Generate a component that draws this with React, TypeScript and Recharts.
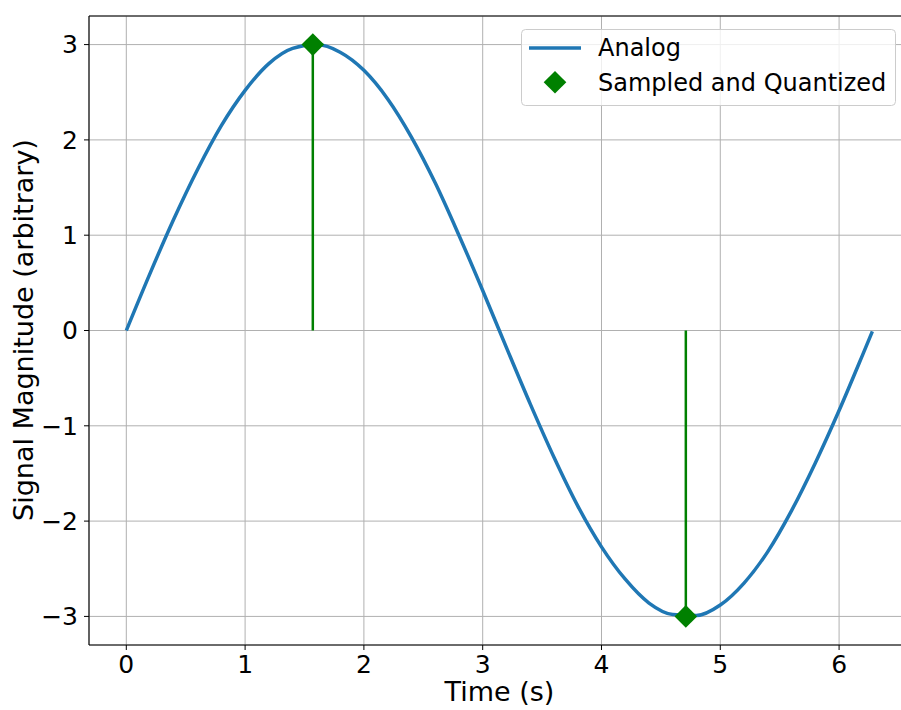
import {
  ComposedChart,
  Line,
  Scatter,
  XAxis,
  YAxis,
  CartesianGrid,
  Legend,
  ReferenceLine
} from "recharts";

// Analog signal
const analogTime = [
  0, 0.2, 0.4, 0.6, 0.8, 1.0, 1.2, 1.4, 1.6, 1.8, 2.0, 2.2, 2.4, 2.6, 2.8, 3.0,
  3.2, 3.4, 3.6, 3.8, 4.0, 4.2, 4.4, 4.6, 4.8, 5.0, 5.2, 5.4, 5.6, 5.8, 6.0, 6.2, 6.28
];
const analogValue = [
  0, 0.6, 1.17, 1.69, 2.15, 2.52, 2.8, 2.96, 3.0, 2.92, 2.73, 2.43, 2.03, 1.55, 1.0, 0.42,
  -0.18, -0.77, -1.33, -1.84, -2.27, -2.61, -2.86, -2.98, -2.99, -2.88, -2.65, -2.32, -1.89, -1.39, -0.84, -0.25, -0.01
];

// Sampled and quantized points
const sampleTime = [1.57, 4.71];
const sampleValue = [3, -3];

const xTicks = [0, 1, 2, 3, 4, 5, 6];
const yTicks = [-3, -2, -1, 0, 1, 2, 3];
const legendLabels = ["Analog", "Sampled and Quantized"];

const FONT = "'DejaVu Sans', sans-serif";
const BLUE = "#1f77b4";
const GREEN = "#008000";

const analogData = analogTime.map((t, i) => ({ t, v: analogValue[i] }));
const sampleData = sampleTime.map((t, i) => ({ t, v: sampleValue[i] }));
const stems = sampleTime.map((t, i) => [
  { t, v: 0 },
  { t, v: sampleValue[i] }
]);

const fmt = (v: number) => (v < 0 ? `\u2212${Math.abs(v)}` : `${v}`);

function Diamond({ cx, cy }: any) {
  const r = 11.3;
  return (
    <polygon
      points={`${cx},${cy - r} ${cx + r},${cy} ${cx},${cy + r} ${cx - r},${cy}`}
      fill={GREEN}
    />
  );
}

function LegendBox() {
  return (
    <svg width={375} height={77} style={{ display: "block" }}>
      <rect x={0.5} y={0.5} width={374} height={76} rx={4} ry={4}
        fill="rgba(255,255,255,0.8)" stroke="#cccccc" strokeWidth={1} />
      <line x1={8} x2={60} y1={19} y2={19} stroke={BLUE} strokeWidth={3.5} />
      <polygon points="34,42 45.3,53.3 34,64.6 22.7,53.3" fill={GREEN} />
      <text x={77} y={19} dominantBaseline="central" fontSize={24} fontFamily={FONT} fill="#000">
        {legendLabels[0]}
      </text>
      <text x={77} y={54} dominantBaseline="central" fontSize={24} fontFamily={FONT} fill="#000">
        {legendLabels[1]}
      </text>
    </svg>
  );
}

export default function App() {
  const tickStyle = { fontSize: 25, fontFamily: FONT, fill: "#000" };
  return (
    <div style={{ position: "absolute", left: 0, top: 0, width: 901, height: 710, overflow: "hidden", background: "#fff" }}>
      <ComposedChart width={920} height={710} margin={{ top: 16, right: 10, left: 0, bottom: 0 }}>
        <CartesianGrid stroke="#b0b0b0" strokeWidth={1} />
        <XAxis
          type="number"
          dataKey="t"
          domain={[-0.314, 6.597]}
          ticks={xTicks}
          allowDataOverflow
          height={65}
          tick={tickStyle}
          tickSize={5}
          tickMargin={5}
          tickLine={{ stroke: "#000" }}
          axisLine={{ stroke: "#000", strokeWidth: 1.1 }}
          label={({ viewBox }: any) => (
            <text
              x={viewBox.x + viewBox.width / 2}
              y={701}
              textAnchor="middle"
              fontSize={27}
              fontFamily={FONT}
              fill="#000"
            >
              Time (s)
            </text>
          )}
        />
        <YAxis
          type="number"
          dataKey="v"
          domain={[-3.3, 3.3]}
          ticks={yTicks}
          allowDataOverflow
          width={89}
          tick={tickStyle}
          tickFormatter={fmt}
          tickSize={5}
          tickMargin={6}
          tickLine={{ stroke: "#000" }}
          axisLine={{ stroke: "#000", strokeWidth: 1.1 }}
          label={() => (
            <text
              x={33}
              y={330}
              transform="rotate(-90, 33, 330)"
              textAnchor="middle"
              fontSize={27}
              fontFamily={FONT}
              fill="#000"
            >
              Signal Magnitude (arbitrary)
            </text>
          )}
        />
        <ReferenceLine y={3.3} stroke="#000" strokeWidth={1.1} />
        <Line
          data={analogData}
          dataKey="v"
          type="monotone"
          stroke={BLUE}
          strokeWidth={3.5}
          dot={false}
          activeDot={false}
          isAnimationActive={false}
        />
        {stems.map((s, i) => (
          <Line
            key={`stem-${i}`}
            data={s}
            dataKey="v"
            type="linear"
            stroke={GREEN}
            strokeWidth={2.5}
            dot={false}
            activeDot={false}
            legendType="none"
            isAnimationActive={false}
          />
        ))}
        <Scatter
          data={sampleData}
          dataKey="v"
          shape={<Diamond />}
          isAnimationActive={false}
        />
        <Legend
          layout="horizontal"
          verticalAlign="middle"
          align="center"
          content={() => <LegendBox />}
          wrapperStyle={{ top: 29, left: 521, width: 375, height: 77 }}
        />
      </ComposedChart>
    </div>
  );
}
